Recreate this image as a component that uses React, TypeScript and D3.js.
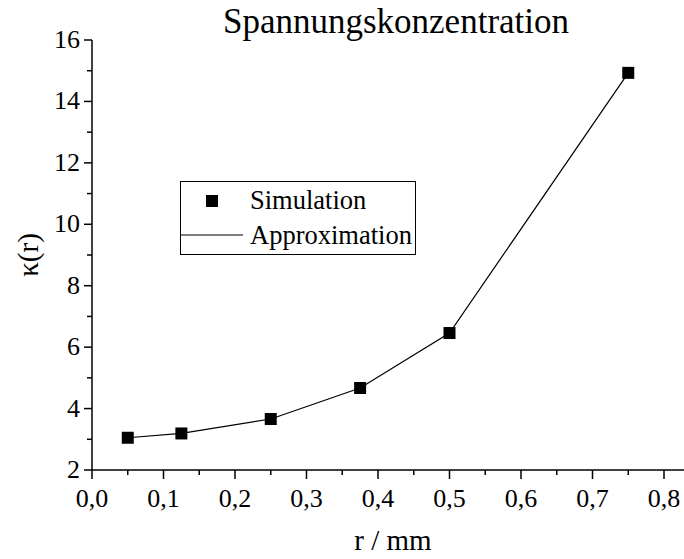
import React from "react";
import * as d3 from "d3";

const radii = [0.05, 0.125, 0.25, 0.375, 0.5, 0.75];
const kappa = [3.05, 3.19, 3.66, 4.67, 6.46, 14.93];
const xTicks = [0, 0.1, 0.2, 0.3, 0.4, 0.5, 0.6, 0.7, 0.8];
const yTicks = [2, 4, 6, 8, 10, 12, 14, 16];
const xMinor = [0.05, 0.15, 0.25, 0.35, 0.45, 0.55, 0.65, 0.75];
const yMinor = [3, 5, 7, 9, 11, 13, 15];

const W = 684, H = 559;
const left = 92, right = 664, top = 40, bottom = 470;
const ts = { fontFamily: "'Liberation Serif', 'Times New Roman', serif" };

export default function App() {
  const x = d3.scaleLinear().domain([0, 0.8]).range([left, right]);
  const y = d3.scaleLinear().domain([2, 16]).range([bottom, top]);
  const pts = radii.map((r, i) => [r, kappa[i]] as [number, number]);
  const line = d3.line<[number, number]>().x(d => x(d[0])).y(d => y(d[1]));
  const fmt = (v: number) => v.toFixed(1).replace(".", ",");
  return (
    <svg width={W} height={H} style={{ position: "absolute", left: 0, top: 0 }}>
      <rect width={W} height={H} fill="#fff" />
      <text style={ts} x={396} y={33} textAnchor="middle" fontSize={35}>Spannungskonzentration</text>
      <line x1={left} x2={left} y1={top} y2={bottom} stroke="#000" strokeWidth={1.5} />
      <line x1={left} x2={W} y1={bottom} y2={bottom} stroke="#000" strokeWidth={1.5} />
      {yTicks.map(v => (
        <g key={"y" + v}>
          <line x1={left - 8} x2={left} y1={y(v)} y2={y(v)} stroke="#000" strokeWidth={1.5} />
          <text style={ts} x={left - 12} y={y(v) + 8} textAnchor="end" fontSize={26}>{v}</text>
        </g>
      ))}
      {yMinor.map(v => (
        <line key={"ym" + v} x1={left - 5} x2={left} y1={y(v)} y2={y(v)} stroke="#000" strokeWidth={1.5} />
      ))}
      {xTicks.map(v => (
        <g key={"x" + v}>
          <line x1={x(v)} x2={x(v)} y1={bottom} y2={bottom + 9} stroke="#000" strokeWidth={1.5} />
          <text style={ts} x={x(v)} y={bottom + 37} textAnchor="middle" fontSize={26}>{fmt(v)}</text>
        </g>
      ))}
      {xMinor.map(v => (
        <line key={"xm" + v} x1={x(v)} x2={x(v)} y1={bottom} y2={bottom + 5} stroke="#000" strokeWidth={1.5} />
      ))}
      <text style={ts} x={393} y={550} textAnchor="middle" fontSize={29}>r / mm</text>
      <text style={ts} transform={`translate(38,${(top + bottom) / 2}) rotate(-90)`} textAnchor="middle" fontSize={29}>κ(r)</text>
      <path d={line(pts) || ""} fill="none" stroke="#000" strokeWidth={1.2} />
      {pts.map((p, i) => (
        <rect key={i} x={x(p[0]) - 6} y={y(p[1]) - 6} width={12} height={12} fill="#000" />
      ))}
      <rect x={180.5} y={181.5} width={235} height={73} fill="#fff" stroke="#000" strokeWidth={1} />
      <rect x={206} y={195} width={12} height={12} fill="#000" />
      <text style={ts} x={250} y={209} fontSize={26.5}>Simulation</text>
      <line x1={180} x2={243} y1={235} y2={235} stroke="#000" strokeWidth={1.2} />
      <text style={ts} x={250} y={244} fontSize={26.5}>Approximation</text>
    </svg>
  );
}
